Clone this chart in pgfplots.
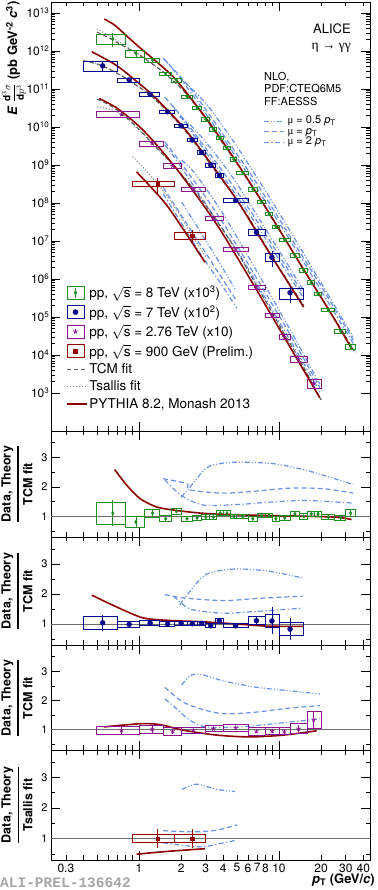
\documentclass[border=0pt]{standalone}
\usepackage{pgfplots}
\pgfplotsset{compat=1.18}
\usepackage{pgfplotstable}
\usepackage{fontspec}
\setmainfont{TeX Gyre Heros}
\newfontfamily\alimono{Liberation Mono}
\newfontfamily\symfont{Liberation Serif}

\definecolor{cgreen}{RGB}{30,140,30}
\definecolor{cblue}{RGB}{10,10,140}
\definecolor{cpurple}{RGB}{140,20,140}
\definecolor{cred}{RGB}{150,0,0}
\definecolor{cpythia}{RGB}{140,0,0}
\definecolor{cnlo}{RGB}{105,145,230}
\definecolor{ctcm}{RGB}{90,90,90}
\definecolor{ctsal}{RGB}{150,150,150}
\definecolor{cunity}{RGB}{110,110,110}
\definecolor{calitag}{RGB}{165,165,165}

\tikzset{
  pyth/.style={draw=cpythia, line width=1.6pt},
  tcm/.style={draw=ctcm, line width=1.1pt, dash pattern=on 4pt off 3pt},
  tsal/.style={draw=ctsal, line width=1.1pt, dash pattern=on 1.2pt off 1.8pt},
  nloA/.style={draw=cnlo, line width=1.2pt, dash pattern=on 5pt off 2pt on 1pt off 2pt on 1pt off 2pt},
  nloB/.style={draw=cnlo, line width=1.2pt, dash pattern=on 5pt off 3pt},
  nloC/.style={draw=cnlo, line width=1.2pt, dash pattern=on 5pt off 2.5pt on 1.2pt off 2.5pt},
}

% systematic-uncertainty boxes from a table (xl xh y s)
\newcommand\drawboxes[4]{%
  \pgfplotstablegetrowsof{#1}%
  \pgfmathtruncatemacro\lastrow{\pgfplotsretval-1}%
  \pgfplotsforeachungrouped \rw in {0,...,\lastrow}{%
    \pgfplotstablegetelem{\rw}{xl}\of{#1}\let\bxl\pgfplotsretval
    \pgfplotstablegetelem{\rw}{xh}\of{#1}\let\bxh\pgfplotsretval
    \pgfplotstablegetelem{\rw}{y}\of{#1}\let\by\pgfplotsretval
    \pgfplotstablegetelem{\rw}{s}\of{#1}\let\bs\pgfplotsretval
    \begingroup
      \pgfkeys{/pgf/fpu=true,/pgf/fpu/output format=sci}%
      \pgfmathparse{#3}\xdef\bylo{\pgfmathresult}%
      \pgfmathparse{#4}\xdef\byhi{\pgfmathresult}%
    \endgroup
    \edef\doboxplot{\noexpand\addplot[#2,line cap=rect,forget plot] coordinates {(\bxl,\bylo) (\bxh,\bylo) (\bxh,\byhi) (\bxl,\byhi) (\bxl,\bylo)};}%
    \doboxplot
  }%
}

% ---------------- spectra (scaled) ----------------
\pgfplotstableread{
x xl xh y s e
0.65 0.5 0.8 2.09e12 0.30 0.40
0.95 0.8 1.1 8.71e11 0.20 0.20
1.25 1.1 1.4 5.75e11 0.14 0.10
1.55 1.4 1.7 2.51e11 0.11 0.05
1.85 1.7 2.0 1.70e11 0.11 0.05
2.2 2.0 2.4 6.31e10 0.10 0.04
2.6 2.4 2.8 3.16e10 0.10 0.04
3.0 2.8 3.2 1.58e10 0.10 0.04
3.4 3.2 3.6 8.71e9 0.10 0.04
3.8 3.6 4.0 5.25e9 0.10 0.04
4.25 4.0 4.5 2.88e9 0.10 0.04
4.75 4.5 5.0 1.41e9 0.10 0.04
5.5 5 6 6.31e8 0.10 0.04
6.5 6 7 2.29e8 0.10 0.04
7.5 7 8 1.07e8 0.10 0.04
8.5 8 9 5.13e7 0.10 0.04
9.5 9 10 2.34e7 0.10 0.04
11 10 12 1.07e7 0.10 0.04
13 12 14 4.17e6 0.10 0.05
15 14 16 1.70e6 0.10 0.05
17 16 18 8.13e5 0.11 0.05
19 18 20 4.07e5 0.11 0.06
22.5 20 25 1.55e5 0.11 0.06
27.5 25 30 4.27e4 0.12 0.08
32.5 30 35 1.66e4 0.13 0.12
}\mainEight

\pgfplotstableread{
x xl xh y s e
0.55 0.4 0.7 4.07e11 0.30 0.30
0.85 0.7 1.0 1.74e11 0.12 0.06
1.2 1.0 1.4 7.24e10 0.12 0.04
1.6 1.4 1.8 2.51e10 0.11 0.04
2.0 1.8 2.2 1.07e10 0.11 0.04
2.4 2.2 2.6 4.57e9 0.11 0.04
2.8 2.6 3.0 2.14e9 0.11 0.04
3.25 3.0 3.5 1.00e9 0.11 0.05
3.75 3.5 4.0 5.25e8 0.12 0.06
4.9 4 6 1.17e8 0.12 0.06
6.9 6 8 1.70e7 0.17 0.15
8.9 8 10 3.72e6 0.24 0.45
12.0 10 15 4.37e5 0.33 0.45
}\mainSeven

\pgfplotstableread{
x xl xh y s e
0.75 0.5 1.0 2.14e10 0.17 0.10
1.24 1.0 1.5 3.72e9 0.15 0.10
1.74 1.5 2.0 9.40e8 0.15 0.08
2.44 2.0 3.0 2.29e8 0.12 0.05
3.4 3.0 4.0 3.98e7 0.12 0.05
4.9 4 6 6.03e6 0.14 0.05
6.9 6 8 6.03e5 0.14 0.06
8.95 8 10 1.12e5 0.14 0.07
10.9 10 12 3.02e4 0.14 0.08
13.8 12 16 7.76e3 0.17 0.13
17.7 16 20 1.78e3 0.25 0.30
}\mainTwo

\pgfplotstableread{
x xl xh y s e
1.36 0.9 1.8 3.16e8 0.15 0.45
2.4 1.8 3.0 1.38e7 0.20 0.40
}\mainNine

% ---------------- ratios ----------------
\pgfplotstableread{
x xl xh y s e
0.65 0.5 0.8 1.11 0.37 0.44
0.95 0.8 1.1 0.81 0.18 0.22
1.25 1.1 1.4 1.11 0.14 0.12
1.55 1.4 1.7 0.92 0.10 0.06
1.85 1.7 2.0 1.17 0.10 0.06
2.2 2.0 2.4 0.92 0.09 0.04
2.6 2.4 2.8 0.95 0.08 0.04
3.0 2.8 3.2 0.98 0.08 0.04
3.4 3.2 3.6 0.98 0.08 0.04
3.8 3.6 4.0 1.11 0.09 0.04
4.25 4.0 4.5 1.11 0.09 0.04
4.75 4.5 5.0 1.00 0.08 0.04
5.5 5 6 1.00 0.08 0.04
6.5 6 7 0.92 0.08 0.04
7.5 7 8 1.03 0.08 0.04
8.5 8 9 1.03 0.08 0.04
9.5 9 10 0.92 0.08 0.04
11 10 12 0.95 0.08 0.04
13 12 14 1.08 0.09 0.05
15 14 16 1.00 0.09 0.05
17 16 18 1.08 0.09 0.05
19 18 20 1.08 0.09 0.06
22.5 20 25 0.98 0.09 0.06
27.5 25 30 0.95 0.10 0.08
32.5 30 35 1.11 0.12 0.12
}\ratEight

\pgfplotstableread{
x xl xh y s e
0.55 0.4 0.7 1.04 0.21 0.26
0.85 0.7 1.0 0.99 0.10 0.08
1.2 1.0 1.4 1.03 0.09 0.04
1.6 1.4 1.8 1.00 0.07 0.04
2.0 1.8 2.2 1.02 0.07 0.04
2.4 2.2 2.6 1.01 0.07 0.04
2.8 2.6 3.0 1.02 0.07 0.04
3.25 3.0 3.5 0.94 0.07 0.05
3.75 3.5 4.0 1.11 0.08 0.06
4.9 4 6 0.94 0.07 0.06
6.9 6 8 1.11 0.13 0.14
8.9 8 10 1.10 0.21 0.45
12.0 10 15 0.83 0.22 0.37
}\ratSeven

\pgfplotstableread{
x xl xh y s e
0.75 0.5 1.0 0.98 0.14 0.12
1.24 1.0 1.5 1.01 0.15 0.12
1.74 1.5 2.0 0.94 0.15 0.09
2.44 2.0 3.0 0.98 0.10 0.05
3.4 3.0 4.0 1.03 0.10 0.05
4.9 4 6 1.06 0.13 0.05
6.9 6 8 0.94 0.13 0.06
8.95 8 10 0.95 0.13 0.07
10.9 10 12 0.94 0.12 0.08
13.8 12 16 1.03 0.17 0.13
17.7 16 20 1.34 0.29 0.30
}\ratTwo

\pgfplotstableread{
x xl xh y s e
1.36 0.9 1.8 1.00 0.13 0.30
2.4 1.8 3.0 1.00 0.13 0.30
}\ratNine

\begin{document}
\begin{tikzpicture}
\useasboundingbox (0,0) rectangle (377pt,890pt);

% ================= MAIN PANEL =================
\begin{axis}[scale only axis, width=319pt, height=429pt, at={(51pt,459pt)}, anchor=south west,
  xmode=log, xmin=0.235, xmax=44.7,
  xtick={1,10}, xticklabels={,},
  minor xtick={0.3,0.4,0.5,0.6,0.7,0.8,0.9,2,3,4,5,6,7,8,9,20,30,40},
  ymode=log, ymin=1e2, ymax=1.95e13,
  ytick={1e3,1e4,1e5,1e6,1e7,1e8,1e9,1e10,1e11,1e12,1e13},
  yticklabels={10\textsuperscript{3},10\textsuperscript{4},10\textsuperscript{5},10\textsuperscript{6},10\textsuperscript{7},10\textsuperscript{8},10\textsuperscript{9},10\textsuperscript{10},10\textsuperscript{11},10\textsuperscript{12},10\textsuperscript{13}},
  tick align=inside, major tick length=9pt, minor tick length=4.5pt,
  tick style={black, line width=0.6pt},
  axis line style={line width=0.8pt},
  tick label style={font=\fontsize{12}{12}\selectfont},
  yticklabel style={inner sep=1.5pt},
  legend style={draw=none, fill=none, at={(0.047,0.342)}, anchor=north west,
    font=\fontsize{13.5}{15}\selectfont, row sep=3pt, inner sep=0pt,
    nodes={inner sep=1.5pt}},
  legend cell align=left]

\addlegendimage{legend image code/.code={%
  \draw[cgreen, line width=0.8pt] (0pt,-6.5pt) rectangle (17pt,6.5pt);
  \draw[cgreen, line width=0.8pt] (8.5pt,-5pt) -- (8.5pt,5pt);
  \fill[cgreen] (8.5pt,2pt) -- (10pt,0pt) -- (8.5pt,-2pt) -- (7pt,0pt) -- cycle;}}
\addlegendentry{pp, $\sqrt{\mbox{s}}$ = 8 TeV (x10\textsuperscript{3})}
\addlegendimage{legend image code/.code={%
  \draw[cblue, line width=0.8pt] (0pt,-6.5pt) rectangle (17pt,6.5pt);
  \fill[cblue] (8.5pt,0pt) circle (2.6pt);}}
\addlegendentry{pp, $\sqrt{\mbox{s}}$ = 7 TeV (x10\textsuperscript{2})}
\addlegendimage{legend image code/.code={%
  \draw[cpurple, line width=0.8pt] (0pt,-6.5pt) rectangle (17pt,6.5pt);
  \draw[cpurple, line width=0.8pt] (8.5pt,0pt) -- ++(90:2.4pt) (8.5pt,0pt) -- ++(162:2.4pt)
     (8.5pt,0pt) -- ++(234:2.4pt) (8.5pt,0pt) -- ++(306:2.4pt) (8.5pt,0pt) -- ++(18:2.4pt);}}
\addlegendentry{pp, $\sqrt{\mbox{s}}$ = 2.76 TeV (x10)}
\addlegendimage{legend image code/.code={%
  \draw[cred, line width=0.8pt] (0pt,-6.5pt) rectangle (17pt,6.5pt);
  \fill[cred] (6.6pt,-1.9pt) rectangle (10.4pt,1.9pt);}}
\addlegendentry{pp, $\sqrt{\mbox{s}}$ = 900 GeV (Prelim.)}
\addlegendimage{legend image code/.code={\draw[tcm] (0pt,0pt) -- (20pt,0pt);}}
\addlegendentry{TCM fit}
\addlegendimage{legend image code/.code={\draw[tsal] (0pt,0pt) -- (20pt,0pt);}}
\addlegendentry{Tsallis fit}
\addlegendimage{legend image code/.code={\draw[pyth] (0pt,0pt) -- (20pt,0pt);}}
\addlegendentry{PYTHIA 8.2, Monash 2013}

% ---- NLO curves ----
\addplot[nloA, smooth, forget plot] coordinates {(2.0,1.74e11) (2.31,1.12e11) (3.04,3.98e10) (4.0,1.0e10) (5.3,2.24e9) (9.1,9.77e7) (15.8,3.39e6) (34,2.88e4)};
\addplot[nloB, smooth, forget plot] coordinates {(1.49,6.46e11) (2.31,1.07e11) (4.0,6.31e9) (6.9,3.39e8) (12,1.32e7) (20.7,5.25e5) (34,2.45e4)};
\addplot[nloC, smooth, forget plot] coordinates {(1.53,5.89e11) (1.76,3.16e11) (2.02,1.70e11) (2.31,8.71e10) (3.04,2.09e10) (5.3,1.12e9) (9.1,5.25e7) (15.8,2.04e6) (34,2.0e4)};
\addplot[nloA, smooth, forget plot] coordinates {(1.96,1.86e10) (2.31,1.15e10) (3.04,3.80e9) (4.7,4.57e8) (8.2,1.82e7) (14.9,5.25e5)};
\addplot[nloB, smooth, forget plot] coordinates {(1.53,6.03e10) (2.07,1.66e10) (4.0,6.46e8) (6.9,3.55e7) (14.9,4.07e5)};
\addplot[nloC, smooth, forget plot] coordinates {(1.76,3.39e10) (2.07,1.48e10) (2.44,6.46e9) (4.0,4.90e8) (6.9,2.69e7) (14.9,3.24e5)};
\addplot[nloA, smooth, forget plot] coordinates {(2.02,1.35e9) (2.31,8.51e8) (2.73,3.98e8) (4.0,5.01e7) (6.9,1.66e6) (12,4.68e4) (19.6,1.70e3)};
\addplot[nloB, smooth, forget plot] coordinates {(1.53,4.07e9) (2.07,9.33e8) (3.04,1.32e8) (4.2,2.19e7) (6.9,1.07e6) (12,3.47e4) (19.6,1.38e3)};
\addplot[nloC, smooth, forget plot] coordinates {(1.53,3.39e9) (1.86,1.32e9) (2.31,3.98e8) (3.04,8.71e7) (5.3,4.07e6) (9.1,1.38e5) (15.8,4.37e3) (19.6,1.05e3)};
\addplot[nloA, smooth, forget plot] coordinates {(2.02,1.05e8) (2.58,2.51e7) (3.6,3.47e6) (4.85,5.50e5)};
\addplot[nloB, smooth, forget plot] coordinates {(1.49,2.57e8) (2.44,1.55e7) (3.6,1.70e6) (5.0,2.57e5)};
\addplot[nloC, smooth, forget plot] coordinates {(1.49,1.74e8) (2.73,4.79e6) (3.9,6.92e5) (5.0,1.70e5)};

% ---- TCM and Tsallis fits ----
\addplot[tsal, smooth, forget plot] coordinates {(0.5,3.80e12) (0.6,2.63e12) (0.7,1.86e12) (0.8,1.35e12) (1.0,8.13e11) (1.2,5.01e11) (1.5,2.75e11) (2.0,1.05e11) (2.5,3.98e10) (3.0,1.62e10) (4.0,3.55e9) (5.0,1.10e9) (6.0,3.98e8) (7.0,1.66e8) (8.0,7.59e7) (10,2.0e7) (12,6.76e6) (15,1.78e6) (20,3.31e5) (25,8.91e4) (30,2.95e4) (35,1.15e4)};
\addplot[tcm, smooth, forget plot] coordinates {(0.5,3.16e12) (0.6,2.29e12) (0.7,1.66e12) (0.8,1.26e12) (1.0,7.94e11) (1.2,5.01e11) (1.5,2.75e11) (2.0,1.05e11) (2.5,3.98e10) (3.0,1.62e10) (4.0,3.55e9) (5.0,1.10e9) (6.0,3.98e8) (7.0,1.66e8) (8.0,7.59e7) (10,2.0e7) (12,6.76e6) (15,1.78e6) (20,3.31e5) (25,8.91e4) (30,2.95e4) (35,1.15e4)};
\addplot[tsal, smooth, forget plot] coordinates {(0.4,5.75e11) (0.5,4.68e11) (0.6,3.47e11) (0.7,2.57e11) (0.85,1.70e11) (1.0,1.12e11) (1.2,6.92e10) (1.6,2.57e10) (2.0,1.05e10) (2.4,4.68e9) (2.8,2.19e9) (3.25,1.0e9) (3.75,5.01e8) (5.0,1.20e8) (6.0,4.47e7) (7.0,1.74e7) (9.0,3.72e6) (12,7.08e5) (15,2.0e5)};
\addplot[tcm, smooth, forget plot] coordinates {(0.4,5.50e11) (0.5,4.57e11) (0.6,3.47e11) (0.7,2.57e11) (0.85,1.70e11) (1.0,1.12e11) (1.2,6.92e10) (1.6,2.57e10) (2.0,1.05e10) (2.4,4.68e9) (2.8,2.19e9) (3.25,1.0e9) (3.75,5.01e8) (5.0,1.20e8) (6.0,4.47e7) (7.0,1.74e7) (9.0,3.72e6) (12,7.08e5) (15,2.0e5)};
\addplot[tsal, smooth, forget plot] coordinates {(0.5,3.39e10) (0.6,3.02e10) (0.75,2.14e10) (1.0,8.51e9) (1.25,3.63e9) (1.75,1.0e9) (2.5,2.14e8) (3.5,3.89e7) (5.0,5.37e6) (7.0,6.17e5) (9.0,1.26e5) (11,3.39e4) (14,7.59e3) (18,1.35e3) (20,6.61e2)};
\addplot[tcm, smooth, forget plot] coordinates {(0.5,5.37e10) (0.6,3.98e10) (0.75,2.29e10) (1.0,8.71e9) (1.25,3.63e9) (1.75,1.0e9) (2.5,2.14e8) (3.5,3.89e7) (5.0,5.37e6) (7.0,6.17e5) (9.0,1.26e5) (11,3.39e4) (14,7.59e3) (18,1.35e3) (20,6.61e2)};
\addplot[tsal, smooth, forget plot] coordinates {(0.9,1.66e9) (1.0,1.12e9) (1.36,3.16e8) (1.8,7.94e7) (2.4,1.38e7) (3.0,3.80e6)};

% ---- PYTHIA ----
\addplot[pyth, smooth, forget plot] coordinates {(0.565,6.92e12) (0.67,4.79e12) (0.82,2.45e12) (1.02,1.20e12) (1.34,5.13e11) (1.86,1.66e11) (3.2,1.26e10) (5.0,1.15e9) (8.2,6.76e7) (15,1.78e6) (24,1.10e5) (33,1.48e4)};
\addplot[pyth, smooth, forget plot] coordinates {(0.46,9.55e11) (0.69,4.17e11) (1.02,1.32e11) (1.3,6.03e10) (2.0,1.15e10) (2.7,2.82e9) (5.0,1.20e8) (8.2,6.17e6) (15,1.82e5)};
\addplot[pyth, smooth, forget plot] coordinates {(0.52,5.62e10) (0.7,3.09e10) (1.02,9.77e9) (1.41,2.69e9) (2.07,4.68e8) (3.6,2.69e7) (6.2,1.02e6) (10.7,3.31e4) (19.6,7.41e2)};
\addplot[pyth, smooth, forget plot] coordinates {(0.96,6.61e8) (1.2,2.75e8) (1.58,8.71e7) (2.2,1.45e7) (2.96,2.75e6)};

% ---- data ----
\drawboxes{\mainEight}{cgreen, line width=0.8pt}{\by*(1-\bs)}{\by*(1+\bs)}
\drawboxes{\mainSeven}{cblue, line width=0.8pt}{\by*(1-\bs)}{\by*(1+\bs)}
\drawboxes{\mainTwo}{cpurple, line width=0.8pt}{\by*(1-\bs)}{\by*(1+\bs)}
\drawboxes{\mainNine}{cred, line width=0.8pt}{\by*(1-\bs)}{\by*(1+\bs)}
\addplot[cgreen, only marks, mark=diamond*, mark size=1.8pt, forget plot,
  error bars/.cd, y dir=both, y explicit relative, error mark=none, error bar style={line width=0.8pt}]
  table[x=x, y=y, y error=e] {\mainEight};
\addplot[cblue, only marks, mark=*, mark size=2.5pt, forget plot,
  error bars/.cd, y dir=both, y explicit relative, error mark=none, error bar style={line width=0.8pt}]
  table[x=x, y=y, y error=e] {\mainSeven};
\addplot[cpurple, only marks, mark=star, mark size=2.3pt, mark options={line width=0.8pt}, forget plot,
  error bars/.cd, y dir=both, y explicit relative, error mark=none, error bar style={line width=0.8pt}]
  table[x=x, y=y, y error=e] {\mainTwo};
\addplot[cred, only marks, mark=square*, mark size=1.9pt, forget plot,
  error bars/.cd, y dir=both, y explicit relative, error mark=none, error bar style={line width=0.8pt}]
  table[x=x, y=y, y error=e] {\mainNine};
\end{axis}

% NLO legend (overlay)
\begin{axis}[at={(51pt,459pt)}, anchor=south west, scale only axis, width=319pt, height=429pt,
  hide axis, xmin=0, xmax=1, ymin=0, ymax=1,
  legend style={draw=none, fill=none, at={(0.665,0.735)}, anchor=north west,
    font=\fontsize{11}{11}\selectfont, row sep=0pt, column sep=3pt, inner sep=0pt,
    nodes={inner sep=0pt, text height=8pt, text depth=2.5pt}},
  legend cell align=left]
\addlegendimage{legend image code/.code={\draw[nloA, draw=cnlo] (0pt,0pt) -- (20pt,0pt);}}
\addlegendentry{{\symfont μ} = 0.5 \textit{p}\textsubscript{T}}
\addlegendimage{legend image code/.code={\draw[nloB, draw=cnlo] (0pt,0pt) -- (20pt,0pt);}}
\addlegendentry{{\symfont μ} = \textit{p}\textsubscript{T}}
\addlegendimage{legend image code/.code={\draw[nloC, draw=cnlo] (0pt,0pt) -- (20pt,0pt);}}
\addlegendentry{{\symfont μ} = 2 \textit{p}\textsubscript{T}}
\end{axis}

% ================= RATIO 8 TeV =================
\begin{axis}[scale only axis, width=319pt, height=106pt, at={(51pt,353pt)}, anchor=south west,
  xmode=log, xmin=0.235, xmax=44.7,
  xtick={1,10}, xticklabels={,},
  minor xtick={0.3,0.4,0.5,0.6,0.7,0.8,0.9,2,3,4,5,6,7,8,9,20,30,40},
  ymin=0.3, ymax=3.9, ytick={1,2,3}, yticklabels={1,2,3}, minor ytick={0.5,1.5,2.5,3.5},
  tick align=inside, major tick length=9pt, minor tick length=4.5pt,
  tick style={black, line width=0.6pt},
  axis line style={line width=0.8pt},
  tick label style={font=\fontsize{11}{11}\selectfont}]
\addplot[cunity, line width=0.7pt, forget plot] coordinates {(0.235,1) (44.7,1)};
\addplot[nloA, smooth, forget plot] coordinates {(2.0,1.65) (2.31,1.99) (3.04,2.65) (4.0,2.81) (5.3,2.84) (9.1,2.79) (15.8,2.56) (34,2.08)};
\addplot[nloB, smooth, forget plot] coordinates {(1.49,2.28) (2.19,2.11) (2.31,1.90) (4.0,1.79) (6.9,1.86) (12,1.96) (20.7,1.94) (34,1.79)};
\addplot[nloC, smooth, forget plot] coordinates {(1.53,2.24) (1.76,1.94) (2.02,1.71) (2.31,1.54) (3.04,1.37) (5.3,1.41) (9.1,1.49) (15.8,1.54) (34,1.45)};
\addplot[pyth, smooth, forget plot] coordinates {(0.67,2.59) (0.82,2.05) (1.02,1.6) (1.34,1.32) (1.86,1.2) (3.2,1.09) (8.2,1.03) (24,0.98) (33,0.89)};
\drawboxes{\ratEight}{cgreen, line width=0.8pt}{\by-\bs}{\by+\bs}
\addplot[cgreen, only marks, mark=diamond*, mark size=1.8pt, forget plot,
  error bars/.cd, y dir=both, y explicit, error mark=none, error bar style={line width=0.8pt}]
  table[x=x, y=y, y error=e] {\ratEight};
\end{axis}

% ================= RATIO 7 TeV =================
\begin{axis}[scale only axis, width=319pt, height=108pt, at={(51pt,245pt)}, anchor=south west,
  xmode=log, xmin=0.235, xmax=44.7,
  xtick={1,10}, xticklabels={,},
  minor xtick={0.3,0.4,0.5,0.6,0.7,0.8,0.9,2,3,4,5,6,7,8,9,20,30,40},
  ymin=0.3, ymax=3.9, ytick={1,2,3}, yticklabels={1,2,3}, minor ytick={0.5,1.5,2.5,3.5},
  tick align=inside, major tick length=9pt, minor tick length=4.5pt,
  tick style={black, line width=0.6pt},
  axis line style={line width=0.8pt},
  tick label style={font=\fontsize{11}{11}\selectfont}]
\addplot[cunity, line width=0.7pt, forget plot] coordinates {(0.235,1) (44.7,1)};
\addplot[nloA, smooth, forget plot] coordinates {(1.96,1.64) (2.31,2.09) (3.04,2.66) (4.7,2.83) (8.2,2.77) (14.9,2.53)};
\addplot[nloB, smooth, forget plot] coordinates {(1.53,1.98) (2.07,1.87) (4.0,1.78) (6.9,1.85) (14.9,1.93)};
\addplot[nloC, smooth, forget plot] coordinates {(1.76,1.93) (2.07,1.64) (2.44,1.47) (4.0,1.36) (6.9,1.42) (14.9,1.53)};
\addplot[pyth, smooth, forget plot] coordinates {(0.46,1.96) (0.69,1.57) (1.02,1.23) (1.3,1.15) (2,1.1) (2.7,1.08) (5,1.0) (8.2,0.93) (15,0.92)};
\drawboxes{\ratSeven}{cblue, line width=0.8pt}{\by-\bs}{\by+\bs}
\addplot[cblue, only marks, mark=*, mark size=2.5pt, forget plot,
  error bars/.cd, y dir=both, y explicit, error mark=none, error bar style={line width=0.8pt}]
  table[x=x, y=y, y error=e] {\ratSeven};
\end{axis}

% ================= RATIO 2.76 TeV =================
\begin{axis}[scale only axis, width=319pt, height=105pt, at={(51pt,140pt)}, anchor=south west,
  xmode=log, xmin=0.235, xmax=44.7,
  xtick={1,10}, xticklabels={,},
  minor xtick={0.3,0.4,0.5,0.6,0.7,0.8,0.9,2,3,4,5,6,7,8,9,20,30,40},
  ymin=0.3, ymax=3.9, ytick={1,2,3}, yticklabels={1,2,3}, minor ytick={0.5,1.5,2.5,3.5},
  tick align=inside, major tick length=9pt, minor tick length=4.5pt,
  tick style={black, line width=0.6pt},
  axis line style={line width=0.8pt},
  tick label style={font=\fontsize{11}{11}\selectfont}]
\addplot[cunity, line width=0.7pt, forget plot] coordinates {(0.235,1) (44.7,1)};
\addplot[nloA, smooth, forget plot] coordinates {(2.02,2.53) (2.31,2.84) (2.73,2.90) (4.0,2.67) (6.9,2.45) (12,2.33) (19.6,2.22)};
\addplot[nloB, smooth, forget plot] coordinates {(1.53,2.45) (2.07,1.94) (3.04,1.65) (4.2,1.54) (6.9,1.60) (12,1.74) (19.6,1.82)};
\addplot[nloC, smooth, forget plot] coordinates {(1.53,2.05) (1.86,1.71) (2.31,1.32) (3.04,1.09) (5.3,1.09) (9.1,1.20) (15.8,1.32) (19.6,1.37)};
\addplot[pyth, smooth, forget plot] coordinates {(0.56,1.09) (1.02,1.2) (1.41,1.17) (2.07,0.98) (3.6,0.81) (6.2,0.75) (10.7,0.81) (18.6,0.96)};
\drawboxes{\ratTwo}{cpurple, line width=0.8pt}{\by-\bs}{\by+\bs}
\addplot[cpurple, only marks, mark=star, mark size=2.3pt, mark options={line width=0.8pt}, forget plot,
  error bars/.cd, y dir=both, y explicit, error mark=none, error bar style={line width=0.8pt}]
  table[x=x, y=y, y error=e] {\ratTwo};
\end{axis}

% ================= RATIO 900 GeV =================
\begin{axis}[scale only axis, width=319pt, height=110pt, at={(51pt,30pt)}, anchor=south west,
  xmode=log, xmin=0.235, xmax=44.7,
  xtick={1,10}, xticklabels={1,10},
  minor xtick={0.3,0.4,0.5,0.6,0.7,0.8,0.9,2,3,4,5,6,7,8,9,20,30,40},
  extra x ticks={0.3,2,3,4,5,6,7,8,20,30,40},
  extra x tick labels={0.3,2,3,4,5,6,7,8,20,30,40},
  extra x tick style={major tick length=4.5pt},
  ymin=0.3, ymax=3.9, ytick={1,2,3}, yticklabels={1,2,3}, minor ytick={0.5,1.5,2.5,3.5},
  tick align=inside, major tick length=9pt, minor tick length=4.5pt,
  tick style={black, line width=0.6pt},
  axis line style={line width=0.8pt},
  yticklabel style={font=\fontsize{11}{11}\selectfont},
  xticklabel style={font=\fontsize{12}{12}\selectfont}]
\addplot[cunity, line width=0.7pt, forget plot] coordinates {(0.235,1) (44.7,1)};
\addplot[nloA, smooth, forget plot] coordinates {(2.02,2.61) (2.58,2.78) (3.6,2.61) (4.85,2.54)};
\addplot[nloB, smooth, forget plot] coordinates {(1.49,1.26) (2.44,1.22) (3.6,1.28) (5.0,1.45)};
\addplot[nloC, smooth, forget plot] coordinates {(1.49,0.86) (2.73,0.73) (3.9,0.85) (5.0,0.95)};
\addplot[pyth, smooth, forget plot] coordinates {(0.96,0.49) (1.58,0.58) (2.96,0.67)};
\drawboxes{\ratNine}{cred, line width=0.8pt}{\by-\bs}{\by+\bs}
\addplot[cred, only marks, mark=square*, mark size=1.9pt, forget plot,
  error bars/.cd, y dir=both, y explicit, error mark=none, error bar style={line width=0.8pt}]
  table[x=x, y=y, y error=e] {\ratNine};
\end{axis}

% ================= texts =================
\node[anchor=east, font=\fontsize{13}{14}\selectfont, inner sep=0pt] at (351pt,861pt) {ALICE};
\node[anchor=east, font=\symfont\fontsize{13.5}{14}\selectfont, inner sep=0pt] at (351pt,842pt) {η → γγ};
\node[anchor=north west, align=left, font=\fontsize{11}{12.3}\selectfont, inner sep=0pt] at (264pt,818pt) {NLO,\\PDF:CTEQ6M5\\FF:AESSS};

\node[rotate=90, anchor=east, inner sep=0pt, font=\bfseries\fontsize{13}{14}\selectfont] at (14pt,889pt)
  {\textit{E} {\fontsize{10}{10}\selectfont$\displaystyle\frac{\mathbf{d}^{3}\sigma}{\mathbf{d}p^{3}}$} (pb GeV\textsuperscript{-2} \textit{c}\textsuperscript{3})};
\node[rotate=90, font=\bfseries\fontsize{12.5}{13}\selectfont] at (17pt,406pt) {$\displaystyle{\mbox{Data, Theory}\above 1.4pt\mbox{TCM fit}}$};
\node[rotate=90, font=\bfseries\fontsize{12.5}{13}\selectfont] at (17pt,299pt) {$\displaystyle{\mbox{Data, Theory}\above 1.4pt\mbox{TCM fit}}$};
\node[rotate=90, font=\bfseries\fontsize{12.5}{13}\selectfont] at (17pt,192pt) {$\displaystyle{\mbox{Data, Theory}\above 1.4pt\mbox{TCM fit}}$};
\node[rotate=90, font=\bfseries\fontsize{12.5}{13}\selectfont] at (17pt,85pt) {$\displaystyle{\mbox{Data, Theory}\above 1.4pt\mbox{Tsallis fit}}$};

\node[anchor=east, font=\bfseries\fontsize{13}{14}\selectfont, inner sep=0pt] at (375pt,10pt) {\textit{p}\textsubscript{T} (GeV/\textit{c})};
\node[anchor=west, font=\alimono\bfseries\fontsize{14.5}{15}\selectfont, text=calitag, inner sep=0pt] at (0pt,7pt) {ALI-PREL-136642};
\end{tikzpicture}
\end{document}
